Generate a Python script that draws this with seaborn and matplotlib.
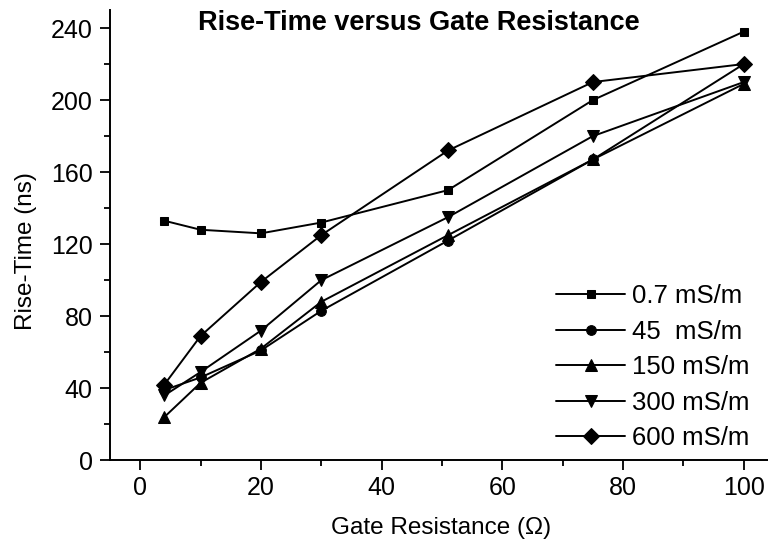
import matplotlib
matplotlib.use("Agg")
import matplotlib.pyplot as plt
import seaborn as sns
import pandas as pd
from matplotlib.ticker import MultipleLocator

# data
gate_res = [4, 10, 20, 30, 51, 75, 100]
rise_07 = [133, 128, 126, 132, 150, 200, 238]
rise_45 = [39, 46, 61, 83, 122, 167, 220]
rise_150 = [24, 43, 62, 88, 125, 167, 209]
rise_300 = [36, 49, 72, 100, 135, 180, 210]
rise_600 = [42, 69, 99, 125, 172, 210, 220]
labels = ["0.7 mS/m", "45  mS/m", "150 mS/m", "300 mS/m", "600 mS/m"]

sns.set_style("ticks")
plt.rcParams['font.family'] = ['Liberation Sans', 'DejaVu Sans']
plt.rcParams['font.size'] = 17.5
for key in ['text.color', 'axes.labelcolor', 'xtick.color', 'ytick.color', 'axes.edgecolor']:
    plt.rcParams[key] = 'black'

fig = plt.figure(figsize=(7.68, 5.43), dpi=100)
# axes: left spine at x=110px, y=0 at 460px, y=250 at 10px
ax = fig.add_axes([110 / 768, (543 - 460.3) / 543, 664 / 768, 450.3 / 543])

series = [rise_07, rise_45, rise_150, rise_300, rise_600]
markers = ['s', 'o', '^', 'v', 'D']
msizes = [5.5, 7, 9, 9, 8]

for vals, lab, m, ms in zip(series, labels, markers, msizes):
    df = pd.DataFrame({'R': gate_res, 'T': vals})
    sns.lineplot(data=df, x='R', y='T', ax=ax, color='black', lw=1.4,
                 marker=m, markersize=ms, markeredgecolor='black',
                 markerfacecolor='black', label=lab)

ax.set_xlim(-5, 105)
ax.set_ylim(0, 250)
ax.xaxis.set_major_locator(MultipleLocator(20))
ax.xaxis.set_minor_locator(MultipleLocator(10))
ax.yaxis.set_major_locator(MultipleLocator(40))
ax.yaxis.set_minor_locator(MultipleLocator(20))
ax.tick_params(which='major', length=7.5, width=1.3, direction='out', labelsize=18, pad=4)
ax.tick_params(which='minor', length=4, width=1.3, direction='out')
ax.tick_params(axis='y', which='major', pad=5)
for sp in ['top', 'right']:
    ax.spines[sp].set_visible(False)
for sp in ['left', 'bottom']:
    ax.spines[sp].set_linewidth(1.4)

ax.set_xlabel("Gate Resistance (Ω)", fontsize=17.5)
ax.set_ylabel("Rise-Time (ns)", fontsize=17.5)
ax.xaxis.set_label_coords((441 - 110) / 664, (460.3 - 528) / 450.3)
ax.xaxis.label.set_va('center')
ax.yaxis.set_label_coords((26 - 110) / 664, (460.3 - 251) / 450.3)
ax.yaxis.label.set_va('center')

ax.text((419 - 110) / 664, (460.3 - 22.5) / 450.3, "Rise-Time versus Gate Resistance",
        transform=ax.transAxes, ha='center', va='center', fontsize=19.5, fontweight='bold')

ax.legend(loc='upper left', bbox_to_anchor=(556 / 768, 1 - (294 - 10) / 543),
          bbox_transform=fig.transFigure, frameon=False, fontsize=18.5,
          handlelength=2.7, handletextpad=0.25, labelspacing=0.45,
          borderpad=0, borderaxespad=0)

fig.savefig("out.png", dpi=100)
